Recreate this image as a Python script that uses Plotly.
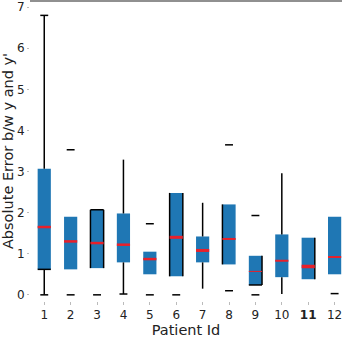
import plotly.graph_objects as go

patients = [1, 2, 3, 4, 5, 6, 7, 8, 9, 10, 11, 12]
q1 = [0.62, 0.62, 0.65, 0.79, 0.50, 0.45, 0.79, 0.74, 0.24, 0.43, 0.38, 0.50]
q3 = [3.07, 1.90, 2.07, 1.98, 1.05, 2.48, 1.42, 2.20, 0.95, 1.47, 1.39, 1.90]
median = [1.65, 1.30, 1.26, 1.22, 0.87, 1.40, 1.08, 1.36, 0.57, 0.83, 0.69, 0.92]
# whiskers drawn as lines (patient, low, high)
whisk_pat = [1, 4, 7, 10]
whisk_low = [0.0, 0.02, 0.15, 0.02]
whisk_high = [6.80, 3.29, 2.24, 2.96]
# caps (patient, value)
cap_pat = [1, 1, 2, 2, 3, 4, 5, 5, 6, 8, 8, 9, 9, 12]
cap_val = [0.0, 6.80, 0.0, 3.53, 0.0, 0.02, 0.0, 1.73, 0.0, 0.10, 3.65, 0.0, 1.93, 0.03]
# box edges drawn in black (patient, side)
edge_pat = [1, 3, 3, 3, 6, 6, 8, 9, 9, 11]
edge_side = ["bottom", "left", "top", "right", "left", "right", "left", "right", "bottom", "right"]
median_width = [2.5, 2.5, 2.5, 2.5, 2.5, 3, 3, 2, 1, 2, 3.5, 2]

BW = 0.5
CW = 0.3
blue = "#1f77b4"

fig = go.Figure()
fig.add_trace(go.Bar(x=patients, y=[b - a for a, b in zip(q1, q3)], base=q1,
                     width=BW, marker=dict(color=blue, line=dict(width=0)),
                     showlegend=False, hoverinfo="skip"))

# whiskers
wx, wy = [], []
for p, lo, hi in zip(whisk_pat, whisk_low, whisk_high):
    i = patients.index(p)
    wx += [p, p, None, p, p, None]
    wy += [lo, q1[i], None, q3[i], hi, None]
fig.add_trace(go.Scatter(x=wx, y=wy, mode="lines", line=dict(color="black", width=1.5),
                         showlegend=False, hoverinfo="skip"))

# caps
cx, cy = [], []
for p, v in zip(cap_pat, cap_val):
    cx += [p - CW / 2, p + CW / 2, None]
    cy += [v, v, None]
fig.add_trace(go.Scatter(x=cx, y=cy, mode="lines", line=dict(color="black", width=1.5),
                         showlegend=False, hoverinfo="skip"))

# box edges
ex, ey = [], []
for p, s in zip(edge_pat, edge_side):
    i = patients.index(p)
    l, r = p - BW / 2, p + BW / 2
    if s == "left":
        ex += [l, l, None]; ey += [q1[i], q3[i], None]
    elif s == "right":
        ex += [r, r, None]; ey += [q1[i], q3[i], None]
    elif s == "top":
        ex += [l, r, None]; ey += [q3[i], q3[i], None]
    else:
        ex += [l, r, None]; ey += [q1[i], q1[i], None]
fig.add_trace(go.Scatter(x=ex, y=ey, mode="lines", line=dict(color="black", width=1.5),
                         showlegend=False, hoverinfo="skip"))

# medians
for p, m, w in zip(patients, median, median_width):
    fig.add_trace(go.Scatter(x=[p - BW / 2, p + BW / 2], y=[m, m], mode="lines",
                             line=dict(color="#e8202a", width=w),
                             showlegend=False, hoverinfo="skip"))

font = dict(family="DejaVu Sans", size=12, color="#222")
fig.update_layout(
    width=342, height=340,
    margin=dict(l=30, r=0, t=1, b=39),
    plot_bgcolor="white", paper_bgcolor="white",
    font=font,
    xaxis=dict(range=[0.46, 12.28], tickmode="array", tickvals=patients,
               ticktext=[str(p) if p != 11 else "<b>11</b>" for p in patients],
               ticklabeloverflow="allow",
               showgrid=False, zeroline=False, showline=False,
               ticks="outside", ticklen=3, tickcolor="#bbb",
               title=dict(text="Patient Id", font=dict(family="DejaVu Sans", size=14.5), standoff=1)),
    yaxis=dict(range=[-0.15, 7.15], tickvals=[0, 1, 2, 3, 4, 5, 6, 7],
               showgrid=False, zeroline=False, showline=False,
               ticks="outside", ticklen=2, tickcolor="#bbb",
               title=dict(text="Absolute Error b/w y and y'", font=dict(family="DejaVu Sans", size=14.5), standoff=1)),
    shapes=[dict(type="line", xref="paper", yref="paper", x0=0, x1=1, y0=1, y1=1,
                 line=dict(color="#222", width=1.2))],
)
fig.write_html("out.html", config={"displayModeBar": False},
               post_script="document.body.style.margin='0';document.body.style.overflow='hidden';")
